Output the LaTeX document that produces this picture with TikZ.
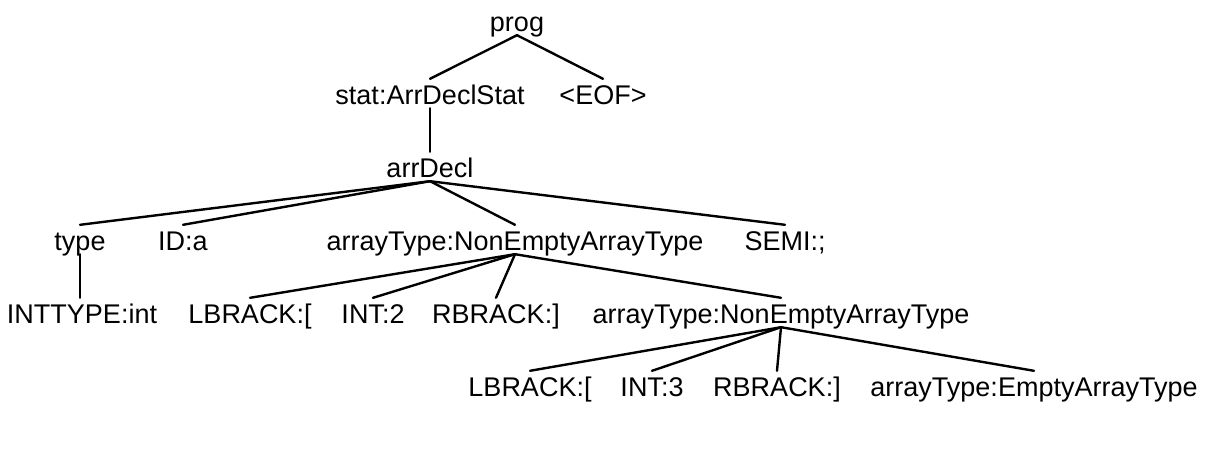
\documentclass[tikz,border=0pt]{standalone}
\usepackage{fontspec}
\setmainfont{Liberation Sans}
\begin{document}
\begin{tikzpicture}[x=1pt,y=-1pt,
  tnode/.style={font=\fontsize{27}{32}\selectfont, anchor=base, inner sep=0pt, text height=25pt, text depth=4pt},
  edge/.style={line width=2.4pt, line cap=round}]
\useasboundingbox[fill=white] (0,0) rectangle (1208,451);
% level 0
\node[tnode] (prog) at (517,31) {prog};
% level 1
\node[tnode] (stat) at (430,104) {stat:ArrDeclStat};
\node[tnode] (eof) at (603,104) {<EOF>};
% level 2
\node[tnode] (arrdecl) at (430,177) {arrDecl};
% level 3
\node[tnode] (type) at (80,250) {type};
\node[tnode] (id) at (183,250) {ID:a};
\node[tnode] (at1) at (515,250) {arrayType:NonEmptyArrayType};
\node[tnode] (semi) at (785,250) {SEMI:;};
% level 4
\node[tnode] (inttype) at (82,323) {INTTYPE:int};
\node[tnode] (lb1) at (250,323) {LBRACK:[};
\node[tnode] (int2) at (373,323) {INT:2};
\node[tnode] (rb1) at (496,323) {RBRACK:]};
\node[tnode] (at2) at (781,323) {arrayType:NonEmptyArrayType};
% level 5
\node[tnode] (lb2) at (530,396) {LBRACK:[};
\node[tnode] (int3) at (652,396) {INT:3};
\node[tnode] (rb2) at (777,396) {RBRACK:]};
\node[tnode] (at3) at (1034,396) {arrayType:EmptyArrayType};
% edges
\draw[edge] (prog.south) -- (stat.north);
\draw[edge] (prog.south) -- (eof.north);
\draw[edge] (stat.south) -- (arrdecl.north);
\draw[edge] (arrdecl.south) -- (type.north);
\draw[edge] (arrdecl.south) -- (id.north);
\draw[edge] (arrdecl.south) -- (at1.north);
\draw[edge] (arrdecl.south) -- (semi.north);
\draw[edge] (type.south) -- (type.south |- inttype.north);
\draw[edge] (at1.south) -- (lb1.north);
\draw[edge] (at1.south) -- (int2.north);
\draw[edge] (at1.south) -- (rb1.north);
\draw[edge] (at1.south) -- (at2.north);
\draw[edge] (at2.south) -- (lb2.north);
\draw[edge] (at2.south) -- (int3.north);
\draw[edge] (at2.south) -- (rb2.north);
\draw[edge] (at2.south) -- (at3.north);
\end{tikzpicture}
\end{document}
